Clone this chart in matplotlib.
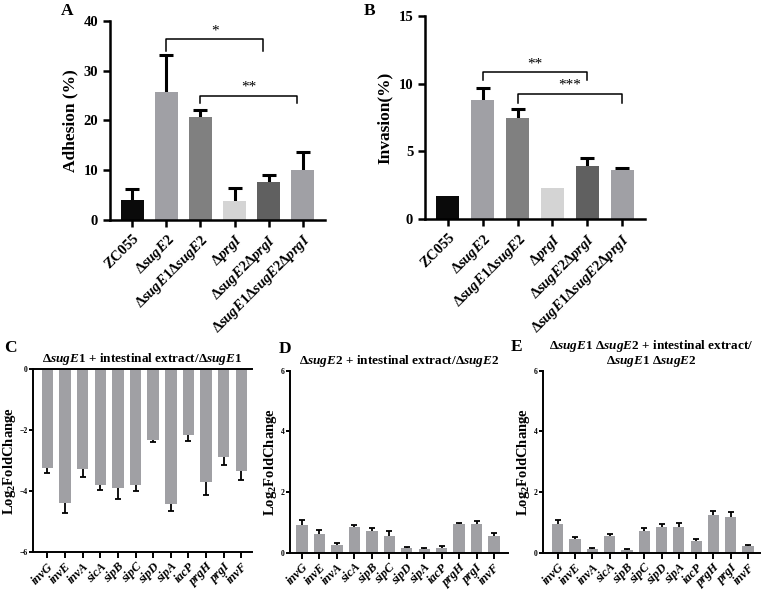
import matplotlib
matplotlib.use("Agg")
import matplotlib.pyplot as plt
import numpy as np

plt.rcParams['font.family'] = ['Liberation Serif', 'DejaVu Serif']
plt.rcParams['font.weight'] = 'bold'
plt.rcParams['axes.labelweight'] = 'bold'
plt.rcParams['axes.titleweight'] = 'bold'
plt.rcParams['mathtext.fontset'] = 'custom'
plt.rcParams['mathtext.rm'] = 'Liberation Serif:bold'
plt.rcParams['mathtext.bf'] = 'Liberation Serif:bold'
plt.rcParams['mathtext.it'] = 'Liberation Serif:italic:bold'

# ---- data ----
strains = ['ZC055', 'Δ$\\mathit{sugE2}$', 'Δ$\\mathit{sugE1}$Δ$\\mathit{sugE2}$', 'Δ$\\mathit{prgI}$',
           'Δ$\\mathit{sugE2}$Δ$\\mathit{prgI}$', 'Δ$\\mathit{sugE1}$Δ$\\mathit{sugE2}$Δ$\\mathit{prgI}$']
strain_colors = ['#0a0a0a', '#a0a0a5', '#808080', '#d4d4d4', '#606060', '#a0a0a5']

adhesion = [4.0, 25.7, 20.7, 3.8, 7.6, 10.0]
adhesion_err = [2.2, 7.5, 1.3, 2.7, 1.4, 3.7]
adh_sig = [(1, 3.85, 34.0, 36.3, '*'), (2, 4.85, 23.4, 24.9, '**')]

invasion = [1.75, 8.8, 7.5, 2.3, 3.9, 3.6]
invasion_err = [np.nan, 0.85, 0.62, np.nan, 0.65, 0.17]
inv_sig = [(1, 4, 10.26, 10.83, '**'), (2, 5, 8.55, 9.23, '***')]

genes = ['invG', 'invE', 'invA', 'sicA', 'sipB', 'sipC', 'sipD', 'sipA', 'iacP', 'prgH', 'prgI', 'invF']

sugE1_fc = [-3.23, -4.38, -3.28, -3.80, -3.91, -3.80, -2.33, -4.42, -2.17, -3.69, -2.87, -3.34]
sugE1_err = [0.16, 0.33, 0.27, 0.17, 0.36, 0.19, 0.05, 0.22, 0.19, 0.42, 0.26, 0.30]

sugE2_fc = [0.91, 0.61, 0.26, 0.85, 0.72, 0.57, 0.15, 0.13, 0.17, 0.96, 0.96, 0.56]
sugE2_err = [0.16, 0.16, 0.08, 0.08, 0.10, 0.14, 0.04, 0.03, 0.06, 0.03, 0.09, 0.10]

double_fc = [0.95, 0.47, 0.12, 0.57, 0.10, 0.74, 0.85, 0.87, 0.38, 1.26, 1.18, 0.22]
double_err = [0.12, 0.05, 0.03, 0.06, 0.02, 0.09, 0.10, 0.11, 0.09, 0.13, 0.16, 0.04]

bar_gray = '#a0a0a4'

fig = plt.figure(figsize=(7.62, 5.94), dpi=100)


def style_axes(ax, lw):
    for s in ['top', 'right']:
        ax.spines[s].set_visible(False)
    for s in ['left', 'bottom']:
        ax.spines[s].set_linewidth(lw)
    ax.tick_params(width=lw, direction='out')


def one_sided_err(ax, x, y, err, down, lw, cap):
    lo = [e if down else 0 for e in err]
    hi = [0 if down else e for e in err]
    _, caps, _ = ax.errorbar(x, y, yerr=[lo, hi], fmt='none', ecolor='black',
                             elinewidth=lw, capsize=cap, capthick=lw, zorder=1)
    caps[1 if down else 0].set_visible(False)


def strain_panel(rect, vals, errs, sigs, ylim, yticks, ylabel, letter, lpos):
    ax = fig.add_axes(rect)
    x = np.arange(len(vals))
    one_sided_err(ax, x, vals, errs, False, 2.2, 5)
    ax.bar(x, vals, width=0.66, color=strain_colors, zorder=2)
    for x1, x2, yl, yh, star in sigs:
        ax.plot([x1, x1, x2, x2], [yl, yh, yh, yl], color='black', lw=1.1)
        ax.text((x1 + x2) / 2, yh + (ylim[1] - ylim[0]) * 0.01, star, ha='center', va='bottom',
                fontsize=11, fontweight='normal')
    ax.set_ylim(*ylim)
    ax.set_xlim(-0.66, len(vals) - 0.34)
    ax.set_yticks(yticks)
    ax.set_xticks(x)
    ax.set_xticklabels(strains, rotation=45, ha='right', rotation_mode='anchor', fontsize=10.5)
    ax.tick_params(axis='y', labelsize=10.5, length=5)
    ax.tick_params(axis='x', length=5)
    ax.set_ylabel(ylabel, fontsize=12.5, labelpad=4)
    style_axes(ax, 1.8)
    fig.text(lpos[0], lpos[1], letter, fontsize=12.5, fontweight='bold', ha='left', va='top')
    return ax


def gene_panel(rect, vals, errs, ylim, yticks, xlim, title, letter, lpos, negative=False):
    ax = fig.add_axes(rect)
    x = np.arange(len(vals))
    one_sided_err(ax, x, vals, errs, negative, 1.3, 2.2)
    ax.bar(x, vals, width=0.65, color=bar_gray, zorder=2)
    ax.set_ylim(*ylim)
    ax.set_xlim(*xlim)
    ax.set_yticks(yticks)
    ax.set_xticks(x)
    ax.set_xticklabels(genes, rotation=45, ha='right', rotation_mode='anchor',
                       fontsize=9, fontstyle='italic')
    ax.tick_params(axis='y', labelsize=5.5, length=3, pad=1)
    ax.tick_params(axis='x', length=4, pad=2)
    ax.set_ylabel('Log$_\\mathbf{2}$FoldChange', fontsize=10.5, labelpad=1)
    style_axes(ax, 1.4)
    if negative:
        ax.spines['top'].set_visible(True)
        ax.spines['top'].set_linewidth(1.4)
    ax.set_title(title, fontsize=9.5, pad=5, linespacing=1.0)
    fig.text(lpos[0], lpos[1], letter, fontsize=12.5, fontweight='bold', ha='left', va='top')
    return ax


strain_panel([110 / 762, 1 - 220 / 594, 215 / 762, 199.3 / 594], adhesion, adhesion_err, adh_sig,
             (0, 40), [0, 10, 20, 30, 40], 'Adhesion (%)', 'A', (61 / 762, 1 - 3 / 594))
strain_panel([425 / 762, 1 - 219.3 / 594, 220 / 762, 203.6 / 594], invasion, invasion_err, inv_sig,
             (0, 15), [0, 5, 10, 15], 'Invasion(%)', 'B', (364 / 762, 1 - 3 / 594))

gene_panel([33 / 762, 1 - 552.3 / 594, 219 / 762, 183.3 / 594], sugE1_fc, sugE1_err, (-6, 0),
           [-6, -4, -2, 0], (-0.81, 11.6), 'Δ$\\mathit{sugE1}$ + intestinal extract/Δ$\\mathit{sugE1}$',
           'C', (4 / 762, 1 - 340 / 594), negative=True)
gene_panel([290 / 762, 1 - 553 / 594, 218 / 762, 182.3 / 594], sugE2_fc, sugE2_err, (0, 6),
           [0, 2, 4, 6], (-0.69, 11.8), 'Δ$\\mathit{sugE2}$ + intestinal extract/Δ$\\mathit{sugE2}$',
           'D', (279 / 762, 1 - 341 / 594))
gene_panel([543 / 762, 1 - 553 / 594, 217 / 762, 182.3 / 594], double_fc, double_err, (0, 6),
           [0, 2, 4, 6], (-0.85, 11.69),
           'Δ$\\mathit{sugE1}$ Δ$\\mathit{sugE2}$ + intestinal extract/\nΔ$\\mathit{sugE1}$ Δ$\\mathit{sugE2}$',
           'E', (511 / 762, 1 - 339 / 594))

fig.savefig('out.png', dpi=100)
